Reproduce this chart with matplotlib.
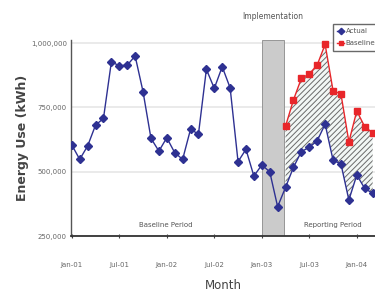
import matplotlib.pyplot as plt
import numpy as np

plt.rcParams['hatch.linewidth'] = 0.7

# monthly data, Jan-01 .. Mar-04
months = np.arange(39)
actual = [604000, 548000, 600000, 681000, 707000, 927000, 912000, 914000, 950000, 811000,
          630000, 580000, 632000, 574000, 548000, 665000, 646000, 898000, 824000, 908000,
          826000, 539000, 587000, 483000, 526000, 500000, 364000, 439000, 517000, 578000,
          595000, 620000, 685000, 545000, 530000, 390000, 487000, 435000, 416000]
base_months = np.arange(27, 39)
baseline = [677000, 779000, 863000, 880000, 915000, 995000, 815000, 802000, 616000,
            736000, 675000, 651000]
tick_pos = [0, 6, 12, 18, 24, 30, 36]
tick_labels = ['Jan-01', 'Jul-01', 'Jan-02', 'Jul-02', 'Jan-03', 'Jul-03', 'Jan-04']
y_ticks = [250000, 500000, 750000, 1000000]
y_labels = ['250,000', '500,000', '750,000', '1,000,000']
impl_start, impl_end = 24, 26.85

navy = '#2e3192'
red = '#e8262a'

fig = plt.figure(figsize=(3.75, 3.03), dpi=100)
ax = fig.add_axes([71/375, 1-236/303, 1-71/375, 196/303])

ax.axvspan(impl_start, impl_end, facecolor='#cbcbcb', edgecolor='#8a8a8a', lw=0.6, zorder=1)

act_rep = np.array(actual[27:])
ax.fill_between(base_months, act_rep, baseline, facecolor='#f2f7f5', edgecolor='#6a6a6a',
                hatch='//////', linewidth=0, zorder=2)

ax.plot(months, actual, color=navy, lw=1.0, marker='D', ms=3.6, mfc=navy, mec=navy,
        label='Actual', zorder=4)
ax.plot(base_months, baseline, color=red, lw=1.0, marker='s', ms=3.8, mfc=red, mec=red,
        label='Baseline', zorder=4)

ax.set_xlim(-0.1, 38.3)
ax.set_ylim(250000, 1012000)
ax.set_yticks(y_ticks)
ax.set_yticklabels(y_labels)
ax.set_xticks(tick_pos)
ax.set_xticklabels(tick_labels)
ax.tick_params(axis='y', length=0, labelsize=5, colors='#666666', pad=3)
ax.tick_params(axis='x', length=3, direction='inout', labelsize=5, labelcolor='#666666',
               color='#444444', pad=17)
ax.grid(axis='y', color='#e6e6e6', lw=1.2, zorder=0)
ax.set_axisbelow(True)
for s in ['top', 'right']:
    ax.spines[s].set_visible(False)
ax.spines['left'].set_color('#555555')
ax.spines['left'].set_linewidth(1.0)
ax.spines['bottom'].set_color('#333333')
ax.spines['bottom'].set_linewidth(1.3)
ax.spines['bottom'].set_zorder(5)

ax.set_ylabel('Energy Use (kWh)', fontsize=9, fontweight='bold', color='#444444', labelpad=1)
ax.set_xlabel('Month', fontsize=8.5, color='#444444', labelpad=8)

ax.text(11.85, 293000, 'Baseline Period', fontsize=5, color='#555555', ha='center', va='center')
ax.text(33.0, 293000, 'Reporting Period', fontsize=5, color='#555555', ha='center', va='center')
ax.text(25.4, 1.12, 'Implementation', transform=ax.get_xaxis_transform(), fontsize=5.5,
        color='#555555', ha='center', va='center', clip_on=False)

leg = ax.legend(loc='upper left', bbox_to_anchor=(0.862, 1.082), fontsize=5, frameon=True,
                fancybox=False, edgecolor='#444444', handlelength=1.0, borderpad=0.6,
                labelspacing=0.9, handletextpad=0.2, borderaxespad=0, markerscale=0.9)
leg.get_frame().set_linewidth(1.0)
for t in leg.get_texts():
    t.set_color('#555555')

fig.savefig('out.png', dpi=100)
